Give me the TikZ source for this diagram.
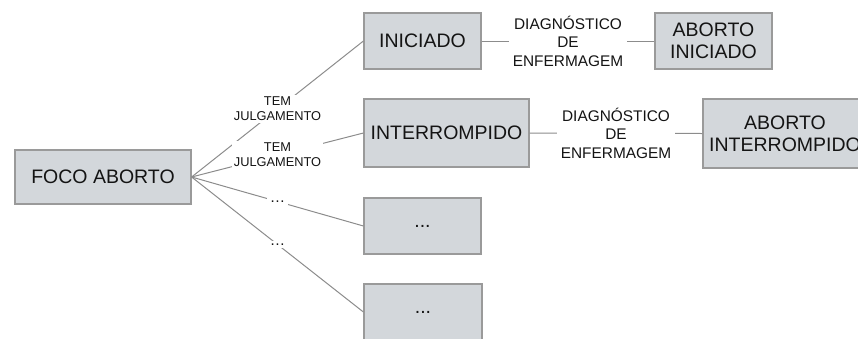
\documentclass[tikz,border=0pt]{standalone}
\usepackage{fontspec}
\setmainfont{Liberation Sans}

\definecolor{boxgray}{HTML}{D3D7DB}
\definecolor{edgegray}{HTML}{9A9A9A}
\definecolor{linegray}{HTML}{8C8C8C}
\definecolor{inkgray}{HTML}{141414}

\tikzset{
  casebox/.style={draw=edgegray, line width=1.2pt, fill=boxgray, align=center,
    text=inkgray, inner sep=0pt, font=\fontsize{19.5}{22}\selectfont},
  judgelabel/.style={fill=white, inner sep=2pt, align=center, text=inkgray,
    font=\fontsize{12.8}{14.7}\selectfont},
  dotlabel/.style={fill=white, inner sep=3pt, text=inkgray,
    font=\fontsize{15.4}{18}\selectfont},
  diaglabel/.style={fill=white, inner sep=4pt, align=center, text=inkgray,
    font=\fontsize{15.4}{18.5}\selectfont},
  link/.style={draw=linegray, line width=1pt},
}

\begin{document}
\begin{tikzpicture}[x=1pt, y=-1pt]

    \clip (0,0) rectangle (858,338);
    \useasboundingbox (0,0) rectangle (858,338);

    %% the boxes
    \node[casebox, minimum width=176, minimum height=54] (foco) at (103,177) {FOCO ABORTO};
    \node[casebox, minimum width=117, minimum height=56] (ini) at (422.5,41) {INICIADO};
    \node[casebox, minimum width=165, minimum height=68] (inter) at (446.5,133) {INTERROMPIDO};
    \node[casebox, minimum width=117, minimum height=56] (outA) at (422.5,226) {...};
    \node[casebox, minimum width=118, minimum height=56] (outB) at (423,312) {...};
    \node[casebox, minimum width=117, minimum height=56] (abini) at (713.5,41) {ABORTO\\INICIADO};
    \node[casebox, minimum width=164, minimum height=69] (abint) at (785,133.5) {ABORTO\\INTERROMPIDO};

    %% links out of the focus
    \draw[link] (foco.east) -- node[judgelabel] {TEM\\JULGAMENTO} (ini.west);
    \draw[link] (foco.east) -- node[judgelabel] {TEM\\JULGAMENTO} (inter.west);
    \draw[link] (foco.east) -- node[dotlabel] {…} (outA.west);
    \draw[link] (foco.east) -- node[dotlabel] {…} (outB.west);

    %% links to the diagnoses
    \draw[link] (ini.east) -- node[diaglabel] {DIAGNÓSTICO\\DE\\ENFERMAGEM} (abini.west);
    \draw[link] (inter.east) -- node[diaglabel] {DIAGNÓSTICO\\DE\\ENFERMAGEM} (abint.west);
\end{tikzpicture}
\end{document}
